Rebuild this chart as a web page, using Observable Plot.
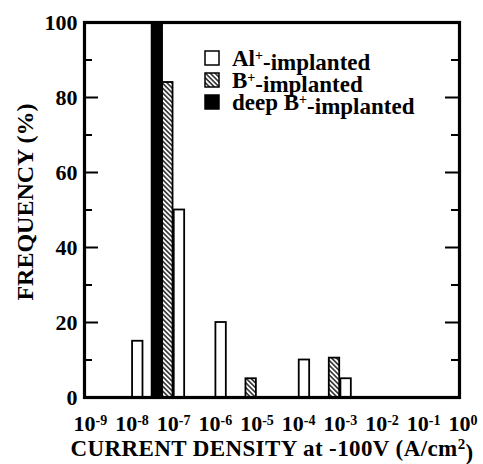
<!DOCTYPE html>
<html>
<head>
<meta charset="utf-8">
<script src="https://cdn.jsdelivr.net/npm/d3@7"></script>
<script src="https://cdn.jsdelivr.net/npm/@observablehq/plot@0.6"></script>
<style>
  html, body { margin: 0; padding: 0; background: #fff; }
</style>
</head>
<body>
<div id="chart"></div>
<script>
// ---- data ----
const seriesNames = ["Al+-implanted", "B+-implanted", "deep B+-implanted"];
// current density (A/cm^2) at the centre of each bar, and frequency (%)
const alDensity   = [1.9e-8, 1.9e-7, 1.9e-6, 1.9e-4, 1.9e-3];
const alFreq      = [15, 50, 20, 10, 5];
const bDensity    = [1.0e-7, 1.0e-5, 1.0e-3];
const bFreq       = [84, 5, 10.5];
const deepDensity = [5.6e-8];
const deepFreq    = [100];
const xTickValues = [1e-9, 1e-8, 1e-7, 1e-6, 1e-5, 1e-4, 1e-3, 1e-2, 1e-1, 1];
const yMajorTicks = [0, 20, 40, 60, 80, 100];
const yMinorTicks = [10, 30, 50, 70, 90];

const toRows = (xs, ys) => xs.map((x, i) => ({x, f: ys[i]}));
const alRows = toRows(alDensity, alFreq);
const bRows = toRows(bDensity, bFreq);
const deepRows = toRows(deepDensity, deepFreq);

// ---- layout ----
const W = 483, H = 464;
const mL = 84, mR = 24, mT = 22, mB = 67;
const innerW = W - mL - mR;
const HALF = Math.pow(10, 0.125); // half bar width, in decades
const majorLen = 14, minorLen = 8;
const font = "'Liberation Serif', 'Times New Roman', serif";

const chart = Plot.plot({
  width: W, height: H,
  marginLeft: mL, marginRight: mR, marginTop: mT, marginBottom: mB,
  style: {fontFamily: font, fontWeight: "bold", fontSize: "22px", color: "black", background: "white"},
  x: {type: "log", domain: [1e-9, 1]},
  y: {domain: [0, 100]},
  marks: [
    Plot.rectY(alRows, {x1: d => d.x / HALF, x2: d => d.x * HALF, y: "f", fill: "white", stroke: "black", strokeWidth: 1.8}),
    Plot.rectY(bRows, {x1: d => d.x / HALF, x2: d => d.x * HALF, y: "f", fill: "url(#hatch)", stroke: "black", strokeWidth: 1.8}),
    Plot.rectY(deepRows, {x1: d => d.x / HALF, x2: d => d.x * HALF, y: "f", fill: "black", stroke: "black", strokeWidth: 1.8}),
    // inward ticks on both sides
    Plot.tickY(yMajorTicks, {y: d => d, insetRight: innerW - majorLen, strokeWidth: 2}),
    Plot.tickY(yMajorTicks, {y: d => d, insetLeft: innerW - majorLen, strokeWidth: 2}),
    Plot.tickY(yMinorTicks, {y: d => d, insetRight: innerW - minorLen, strokeWidth: 2}),
    Plot.tickY(yMinorTicks, {y: d => d, insetLeft: innerW - minorLen, strokeWidth: 2}),
    Plot.frame({stroke: "black", strokeWidth: 3.2}),
    Plot.axisY({ticks: yMajorTicks, tickSize: 0, tickPadding: 7, label: null, fontSize: 22, tickFormat: d => String(d)}),
    Plot.axisX({ticks: xTickValues, tickSize: 0, tickPadding: 18, label: null, fontSize: 22,
      tickFormat: d => String(Math.round(Math.log10(d))).replace("−", "-")})
  ]
});

document.getElementById("chart").appendChild(chart);

const svg = d3.select(chart);

// hatch pattern
const pat = svg.insert("defs", ":first-child").append("pattern")
  .attr("id", "hatch").attr("patternUnits", "userSpaceOnUse")
  .attr("width", 3.4).attr("height", 3.4)
  .attr("patternTransform", "rotate(-45)");
pat.append("rect").attr("width", 3.4).attr("height", 3.4).attr("fill", "white");
pat.append("line").attr("x1", 1.7).attr("y1", 0).attr("x2", 1.7).attr("y2", 3.4)
  .attr("stroke", "black").attr("stroke-width", 1.3);

// superscript exponents on x tick labels
svg.selectAll('g[aria-label="x-axis tick label"] text').each(function () {
  const t = d3.select(this);
  const exp = t.text();
  t.text("").attr("text-anchor", "start").attr("dx", -11);
  t.append("tspan").text("10");
  t.append("tspan").attr("dy", "-0.42em").attr("font-size", "14px").text(exp);
});

// axis titles
const xt = svg.append("text").attr("x", 272).attr("y", 456)
  .attr("text-anchor", "middle").attr("font-size", 23).attr("letter-spacing", "0.4px")
  .attr("font-family", font).attr("font-weight", "bold").attr("fill", "black");
xt.append("tspan").text("CURRENT DENSITY at -100V (A/cm");
xt.append("tspan").attr("dy", "-0.45em").attr("font-size", "15px").text("2");
xt.append("tspan").attr("dy", "0.45em").text(")");

svg.append("text").attr("transform", "translate(33,202) rotate(-90)")
  .attr("text-anchor", "middle").attr("font-size", 24)
  .attr("font-family", font).attr("font-weight", "bold").attr("fill", "black")
  .text("FREQUENCY (%)");

// legend
const legendFills = ["white", "url(#hatch)", "black"];
const lg = svg.append("g").attr("font-family", font).attr("font-weight", "bold")
  .attr("font-size", 23).attr("text-anchor", "start");
seriesNames.forEach((name, i) => {
  const cy = 58 + i * 22;
  lg.append("rect").attr("x", 205).attr("y", cy - 7).attr("width", 14).attr("height", 14)
    .attr("fill", legendFills[i]).attr("stroke", "black").attr("stroke-width", 1.5);
  const tx = lg.append("text").attr("x", 232).attr("y", cy + 8).attr("fill", "black")
    .attr("text-anchor", "start");
  const [pre, post] = name.split("+");
  tx.append("tspan").text(pre);
  tx.append("tspan").attr("dy", "-0.45em").attr("font-size", "14px").text("+");
  tx.append("tspan").attr("dy", "0.45em").text(post);
});
</script>
</body>
</html>
